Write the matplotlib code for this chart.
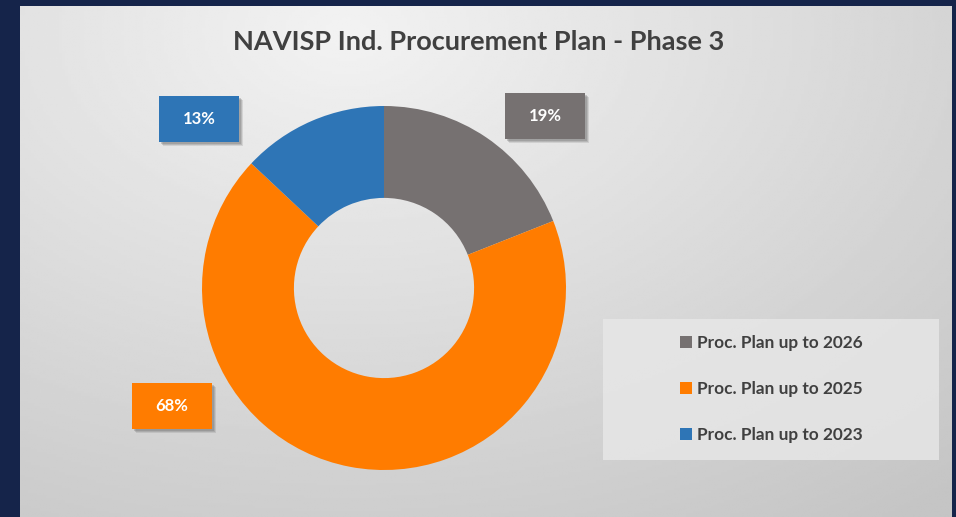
import matplotlib.pyplot as plt
import numpy as np
from matplotlib.patches import Rectangle, Patch

# data
labels = ['Proc. Plan up to 2026', 'Proc. Plan up to 2025', 'Proc. Plan up to 2023']
shares = [19, 68, 13]
colors = ['#767171', '#FF7C00', '#2E75B6']
title = 'NAVISP Ind. Procurement Plan - Phase 3'
# label box centres (pixels from top-left), same order as labels
label_pos = [(545, 116), (172, 406), (199, 119)]

W, H = 956, 517
plt.rcParams['font.family'] = ['Lato', 'DejaVu Sans']

fig = plt.figure(figsize=(W / 100, H / 100), dpi=100)
fig.patch.set_facecolor('#15244a')


def fx(px):
    return px / W


def fy(py):
    return 1 - py / H


# chart area with soft radial gradient
bg = fig.add_axes([fx(20), 0, fx(952) - fx(20), fy(6)])
yy, xx = np.mgrid[0:1:200j, 0:1:300j]
d = np.sqrt(((xx - 0.35) * 1.2) ** 2 + ((yy - 0.05) * 1.0) ** 2)
grad = 0.95 - 0.18 * np.clip(d, 0, 1.2) / 1.2
bg.imshow(grad, cmap='gray', vmin=0, vmax=1, aspect='auto', extent=[0, 1, 1, 0])
bg.set_axis_off()

# donut
cx, cy, r = 384, 288, 182
ax = fig.add_axes([fx(cx - r), fy(cy + r), fx(2 * r), (2 * r) / H])
ax.pie(shares, colors=colors, startangle=90, counterclock=False,
       wedgeprops=dict(width=0.505, edgecolor='none'), radius=1)
ax.set_xlim(-1, 1)
ax.set_ylim(-1, 1)
ax.set_axis_off()

fig.text(fx(479), fy(42), title, ha='center', va='center',
         fontsize=19.5, fontweight='bold', color='#404040')

# percentage label boxes with a soft shadow
bw, bh = 80, 46
for (px, py), val, col in zip(label_pos, shares, colors):
    for off, a in [(4, 0.18), (3, 0.25), (2, 0.3)]:
        fig.patches.append(Rectangle((fx(px - bw / 2 + off), fy(py + bh / 2 + off)), fx(bw), bh / H,
                                     transform=fig.transFigure, facecolor='#6f6f6f',
                                     alpha=a, edgecolor='none', zorder=3))
    fig.patches.append(Rectangle((fx(px - bw / 2), fy(py + bh / 2)), fx(bw), bh / H,
                                 transform=fig.transFigure, facecolor=col,
                                 edgecolor='none', zorder=4))
    fig.text(fx(px), fy(py), f'{val}%', ha='center', va='center', fontsize=12,
             fontweight='bold', color='white', zorder=5)

# legend
fig.patches.append(Rectangle((fx(603), fy(460)), fx(939) - fx(603), (460 - 319) / H,
                             transform=fig.transFigure, facecolor='#e8e8e8',
                             edgecolor='none', alpha=0.8, zorder=2))
handles = [Patch(facecolor=c, edgecolor='none') for c in colors]
leg = fig.legend(handles, labels, loc='center', bbox_to_anchor=(fx(771), fy(389)),
                 frameon=False, fontsize=12.4, handlelength=0.7, handleheight=0.7,
                 handletextpad=0.3, labelspacing=1.75)
for t in leg.get_texts():
    t.set_fontweight('bold')
    t.set_color('#404040')

fig.savefig('out.png', dpi=100, facecolor=fig.get_facecolor())
